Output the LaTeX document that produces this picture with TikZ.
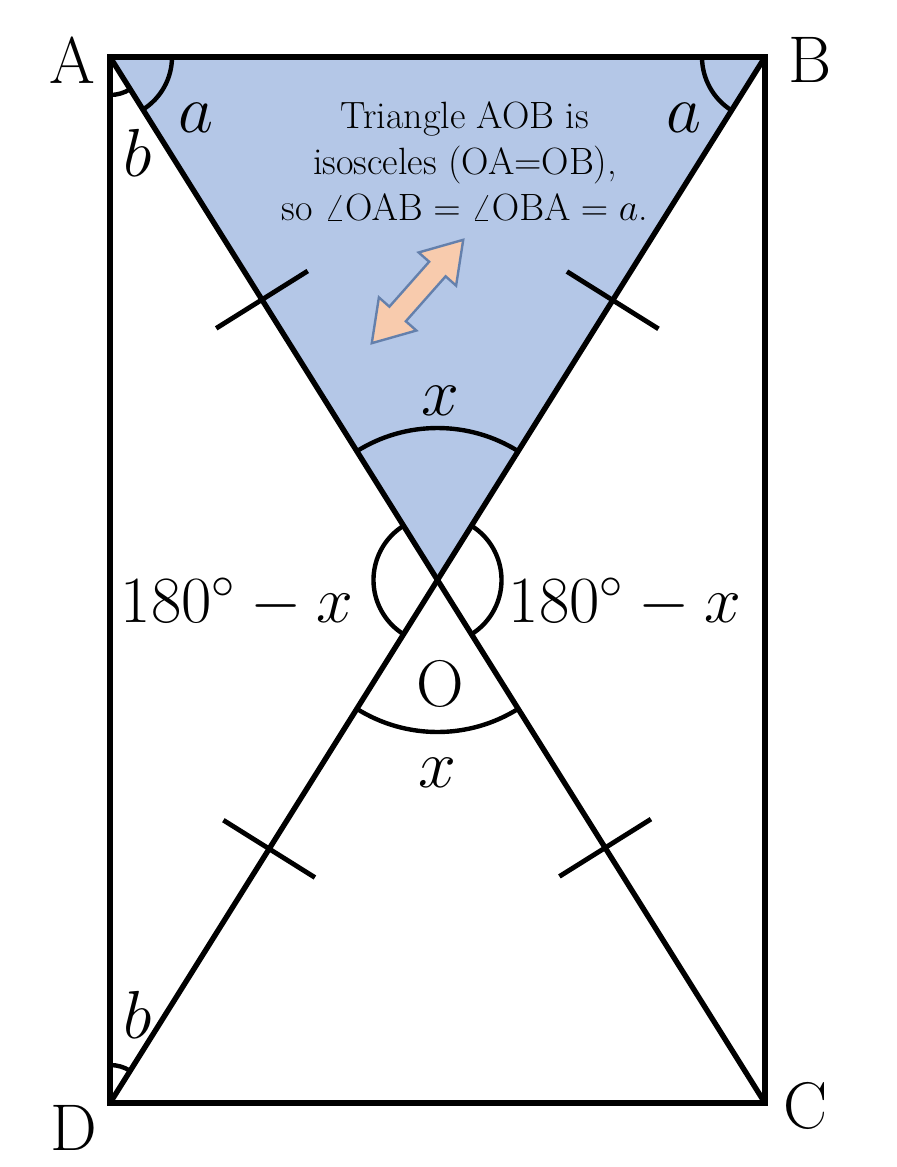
\RequirePackage{fix-cm}
\documentclass[tikz,border=0pt]{standalone}
\usetikzlibrary{calc}
\definecolor{tri}{RGB}{180,199,231}
\definecolor{peach}{RGB}{248,203,173}
\definecolor{arrowedge}{RGB}{100,128,172}
\begin{document}
\begin{tikzpicture}[x=0.5pt,y=0.5pt,
  edge/.style={line width=2.7pt, line join=miter},
  arcline/.style={line width=2.2pt},
  tickline/.style={line width=2.4pt},
  vlabel/.style={font=\fontsize{33}{38}\selectfont, inner sep=0pt},
  mlabel/.style={font=\fontsize{34}{40}\selectfont, inner sep=0pt},
  biglabel/.style={font=\fontsize{33}{40}\selectfont, inner sep=0pt},
  ]
\useasboundingbox (0,0) rectangle (896,-1167);
\coordinate (A) at (110,-57);
\coordinate (B) at (765,-57);
\coordinate (C) at (765,-1103);
\coordinate (D) at (110,-1103);
\coordinate (O) at (437.5,-580);
% shaded triangle
\fill[tri] (A) -- (B) -- (O) -- cycle;
% double arrow
\begin{scope}[shift={(417.5,-291.5)}, rotate=48.5]
\filldraw[fill=peach, draw=arrowedge, line width=1.2pt, line join=miter]
  (69,0) -- (30,25) -- (30,11) -- (-30,11) -- (-30,25)
  -- (-69,0) -- (-30,-25) -- (-30,-11) -- (30,-11) -- (30,-25) -- cycle;
\end{scope}
% angle arcs
\draw[arcline] (O) ++(57.9:152) arc[start angle=57.9, end angle=122.1, radius=152];
\draw[arcline] (O) ++(-57.9:152) arc[start angle=-57.9, end angle=-122.1, radius=152];
\draw[arcline] (O) ++(122.1:64) arc[start angle=122.1, end angle=237.9, radius=64];
\draw[arcline] (O) ++(57.9:64) arc[start angle=57.9, end angle=-57.9, radius=64];
\draw[arcline] (A) ++(0:62) arc[start angle=0, end angle=-57.9, radius=62];
\draw[arcline] (A) ++(-57.9:38) arc[start angle=-57.9, end angle=-90, radius=38];
\draw[arcline] (B) ++(180:63) arc[start angle=180, end angle=237.9, radius=63];
\draw[arcline] (D) ++(57.9:38) arc[start angle=57.9, end angle=90, radius=38];
% rectangle and diagonals
\draw[edge] (A) -- (B) -- (C) -- (D) -- cycle;
\draw[edge] (A) -- (C);
\draw[edge] (B) -- (D);
% tick marks
\coordinate (m1) at ($(A)!0.464!(O)$);
\coordinate (m2) at ($(B)!0.465!(O)$);
\coordinate (m3) at ($(O)!0.514!(D)$);
\coordinate (m4) at ($(O)!0.512!(C)$);
\foreach \m/\t in {m1/A, m2/B, m3/D, m4/C}{
  \draw[tickline] ($(\m)!27pt!90:(\t)$) -- ($(\m)!27pt!-90:(\t)$);
}
% vertex labels
\node[vlabel] (lA) at (72,-60) {A};
\node[vlabel] (lB) at (810,-60) {B};
\node[vlabel] (lC) at (806,-1106) {C};
\node[vlabel] (lD) at (74,-1128) {D};
\node[vlabel] (lO) at (440,-684) {O};
% angle labels
\node[mlabel] (a1) at (196,-118) {$a$};
\node[mlabel] (a2) at (684,-118) {$a$};
\node[mlabel] (b1) at (138,-153) {$b$};
\node[mlabel] (b2) at (138,-1015) {$b$};
\node[mlabel] (x1) at (440,-401) {$x$};
\node[mlabel] (x2) at (437,-773) {$x$};
\node[biglabel] (s1) at (237,-603) {$180^\circ - x$};
\node[biglabel] (s2) at (625,-603) {$180^\circ - x$};
% note
\node[align=center, anchor=north, inner sep=0pt, font=\fontsize{19}{23}\selectfont] (note) at (465,-101)
  {Triangle AOB is\\ isosceles (OA=OB),\\ so $\angle\mathrm{OAB}=\angle\mathrm{OBA}=a$.};
\end{tikzpicture}
\end{document}
